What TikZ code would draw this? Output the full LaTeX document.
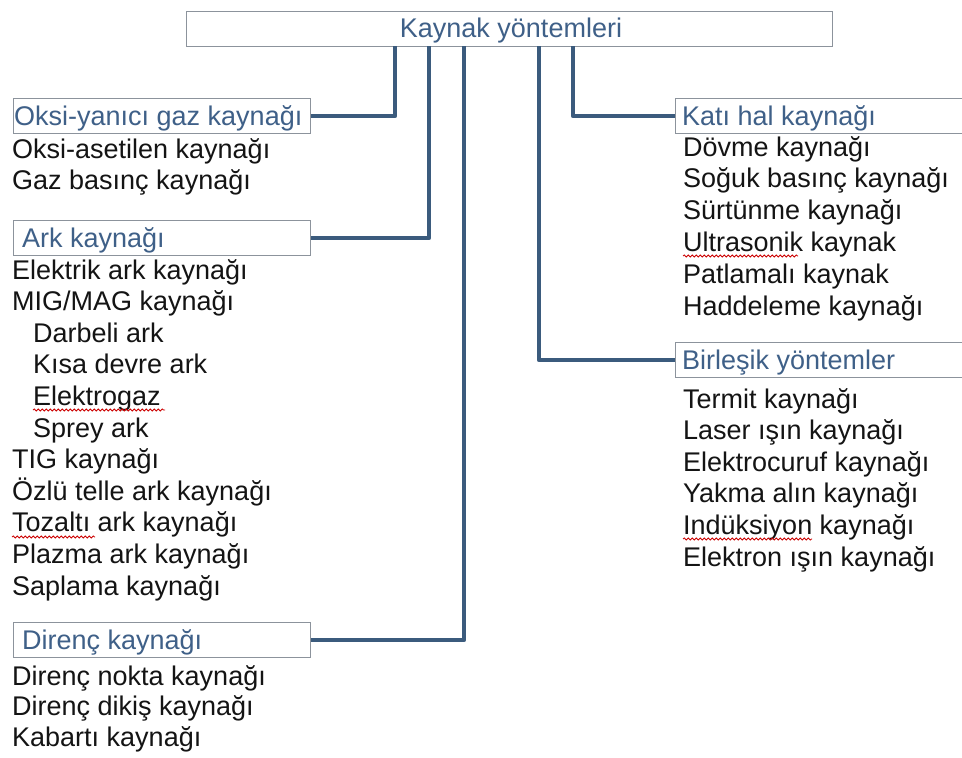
\documentclass[tikz,border=0pt]{standalone}
\usepackage{fontspec}
\setmainfont{Liberation Sans}
\usetikzlibrary{decorations.pathmorphing}
\definecolor{conncol}{HTML}{3B5B7D}
\definecolor{headcol}{HTML}{3F6088}
\definecolor{boxcol}{HTML}{8C939C}
\tikzset{
  conn/.style={draw=conncol, line width=4.5pt, line join=round},
  headbox/.style={draw=boxcol, line width=1.3pt, fill=white, anchor=north west, minimum height=35pt, inner sep=0pt},
  headtxt/.style={anchor=base west, inner sep=0pt, text=headcol, font=\fontsize{27}{30}\selectfont},
  item/.style={anchor=base west, inner sep=0pt, text=black!92, font=\fontsize{27}{30}\selectfont},
  squig/.style={draw=red!80!black, line width=0.8pt, decorate, decoration={snake, amplitude=1pt, segment length=4pt}}
}
\begin{document}
\begin{tikzpicture}[x=1pt,y=-1pt]
\useasboundingbox[fill=white] (0,0) rectangle (962,758);
% top box
\node[draw=boxcol, line width=1.3pt, anchor=north west, minimum width=646pt, minimum height=35pt, inner sep=0pt] (top) at (186,11) {};
\node[anchor=base, inner sep=0pt, text=headcol, font=\fontsize{27}{30}\selectfont] (toptxt) at (511,37) {Kaynak yöntemleri};
\coordinate (t1) at (395,46);
\coordinate (t2) at (429,46);
\coordinate (t3) at (464,46);
\coordinate (t4) at (539,46);
\coordinate (t5) at (573,46);
% heading boxes
\node[headbox, minimum width=297pt] (oksi) at (13,98) {};
\node[headbox, minimum width=297pt] (ark) at (13,220) {};
\node[headbox, minimum width=297pt] (diren) at (13,622) {};
\node[headbox, minimum width=290pt] (kati) at (675,98) {};
\node[headbox, minimum width=290pt] (birl) at (675,342) {};
% connectors
\draw[conn] (oksi.east) -| (t1);
\draw[conn] (ark.east) -| (t2);
\draw[conn] (diren.east) -| (t3);
\draw[conn] (birl.west) -| (t4);
\draw[conn] (kati.west) -| (t5);
% heading texts
\node[headtxt] (oksit) at (14,125) {Oksi-yanıcı gaz kaynağı};
\node[headtxt] (arkt) at (22,247) {Ark kaynağı};
\node[headtxt] (dirent) at (22,649) {Direnç kaynağı};
\node[headtxt] (katit) at (682,125) {Katı hal kaynağı};
\node[headtxt] (birlt) at (682,369) {Birleşik yöntemler};
% left items
\node[item] (a1) at (12,158) {Oksi-asetilen kaynağı};
\node[item] (a2) at (12,189) {Gaz basınç kaynağı};
\node[item] (b1) at (12,279) {Elektrik ark kaynağı};
\node[item] (b2) at (12,310.6) {MIG/MAG kaynağı};
\node[item] (b3) at (33,342.2) {Darbeli ark};
\node[item] (b4) at (33,373.8) {Kısa devre ark};
\node[item] (b5) at (33,405.4) {Elektrogaz};
\node[item] (b6) at (33,437) {Sprey ark};
\node[item] (b7) at (12,468.6) {TIG kaynağı};
\node[item] (b8) at (12,500.2) {Özlü telle ark kaynağı};
\node[item] (b9) at (12,531.8) {Tozaltı ark kaynağı};
\node[item] (b10) at (12,563.4) {Plazma ark kaynağı};
\node[item] (b11) at (12,595) {Saplama kaynağı};
\node[item] (c1) at (12,685) {Direnç nokta kaynağı};
\node[item] (c2) at (12,715.5) {Direnç dikiş kaynağı};
\node[item] (c3) at (12,746) {Kabartı kaynağı};
% right items
\node[item] (d1) at (683,156) {Dövme kaynağı};
\node[item] (d2) at (683,187.8) {Soğuk basınç kaynağı};
\node[item] (d3) at (683,219.6) {Sürtünme kaynağı};
\node[item] (d4) at (683,251.4) {Ultrasonik kaynak};
\node[item] (d5) at (683,283.2) {Patlamalı kaynak};
\node[item] (d6) at (683,315) {Haddeleme kaynağı};
\node[item] (e1) at (683,408) {Termit kaynağı};
\node[item] (e2) at (683,439.6) {Laser ışın kaynağı};
\node[item] (e3) at (683,471.2) {Elektrocuruf kaynağı};
\node[item] (e4) at (683,502.8) {Yakma alın kaynağı};
\node[item] (e5) at (683,534.4) {Indüksiyon kaynağı};
\node[item] (e6) at (683,566) {Elektron ışın kaynağı};
% spell-check underlines
\draw[squig] (33,410) -- (165,410);
\draw[squig] (12,537) -- (95,537);
\draw[squig] (683,256) -- (798,256);
\draw[squig] (683,539) -- (812,539);
\end{tikzpicture}
\end{document}
